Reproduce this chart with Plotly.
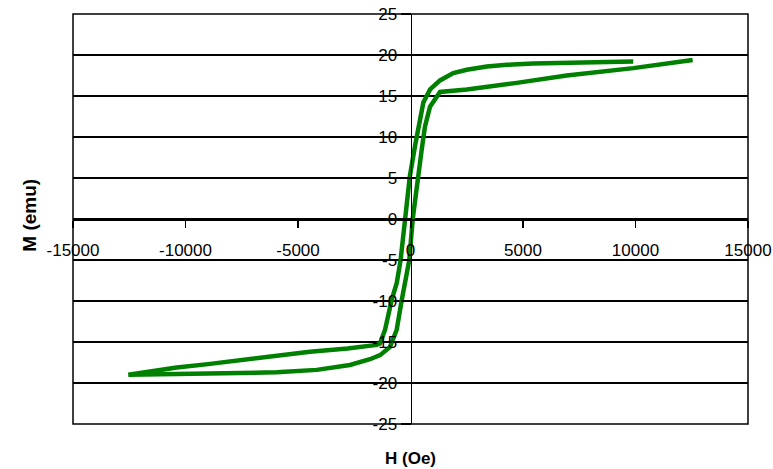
import plotly.graph_objects as go

# Hysteresis loop (H in Oe, M in emu)
H = [9900, 8100, 6900, 5450, 4280, 3390, 2500, 1900, 1310, 870, 570, 350, 200, -30,
     -240, -440, -610, -840, -1130, -1360,
     -1500, -2800, -4470, -5900, -7430, -9000, -10390, -12540,
     -10390, -8170, -5950, -4170, -2690, -1800, -1350, -910, -613, -390, -170, -53,
     98, 320, 500, 644, 867, 1311, 1800,
     2500, 4720, 6940, 9900, 12540]
M = [19.2, 19.15, 19.05, 18.95, 18.8, 18.6, 18.2, 17.8, 16.9, 15.8, 14.2, 11.3, 8.9, 5.2,
     0.0, -5.0, -7.8, -9.9, -13.5, -15.2,
     -15.35, -15.8, -16.2, -16.7, -17.2, -17.7, -18.1, -19.0,
     -18.9, -18.8, -18.7, -18.4, -17.8, -17.1, -16.6, -15.6, -13.5, -9.9, -6.2, -5.0,
     0.0, 5.2, 8.5, 11.3, 13.7, 15.5, 15.6,
     15.8, 16.6, 17.5, 18.4, 19.4]

x_ticks = [-15000, -10000, -5000, 0, 5000, 10000, 15000]
y_ticks = [-25, -20, -15, -10, -5, 0, 5, 10, 15, 20, 25]
x_labels = [str(v) for v in x_ticks]
y_labels = [str(v) for v in y_ticks]

tick_font = dict(family="Liberation Sans, Arial", size=17, color="black")

fig = go.Figure()
fig.add_trace(go.Scatter(x=H, y=M, mode="lines",
                         line=dict(color="#008000", width=4.5), showlegend=False,
                         hoverinfo="skip"))

fig.update_layout(
    width=773, height=469,
    margin=dict(l=73, r=25, t=14, b=45, autoexpand=False),
    paper_bgcolor="white", plot_bgcolor="white",
    xaxis=dict(range=[-15000, 15000], anchor="free", position=0.5,
               showline=True, linecolor="black", linewidth=1.5,
               ticks="outside", ticklen=7, tickcolor="black", tickwidth=1.2,
               tickvals=x_ticks, ticktext=x_labels, tickfont=tick_font,
               ticklabelstandoff=8,
               ticklabeloverflow="allow", automargin=False,
               showgrid=False, zeroline=False, fixedrange=True),
    yaxis=dict(range=[-25, 25], anchor="free", position=0.5,
               showline=True, linecolor="black", linewidth=1.5,
               ticks="outside", ticklen=10, tickcolor="black", tickwidth=1.5,
               tickvals=y_ticks, ticktext=y_labels, tickfont=tick_font,
               ticklabeloverflow="allow", automargin=False,
               showgrid=True, gridcolor="black", gridwidth=1.5,
               zeroline=False, fixedrange=True),
    shapes=[dict(type="rect", xref="paper", yref="paper", x0=0, x1=1, y0=0, y1=1,
                 line=dict(color="black", width=1.5), layer="above")],
    annotations=[
        dict(text="<b>H (Oe)</b>", xref="paper", yref="paper", x=0.5, y=-0.083,
             xanchor="center", yanchor="middle", showarrow=False,
             font=dict(family="Liberation Sans, Arial", size=17, color="black")),
        dict(text="<b>M (emu)</b>", xref="paper", yref="paper", x=-0.0637, y=0.508,
             xanchor="center", yanchor="middle", showarrow=False, textangle=-90,
             font=dict(family="Liberation Sans, Arial", size=19, color="black")),
    ],
)

fig.write_html("out.html",
               config={"displayModeBar": False, "staticPlot": True},
               post_script="document.body.style.margin='0';document.body.style.overflow='hidden';")
